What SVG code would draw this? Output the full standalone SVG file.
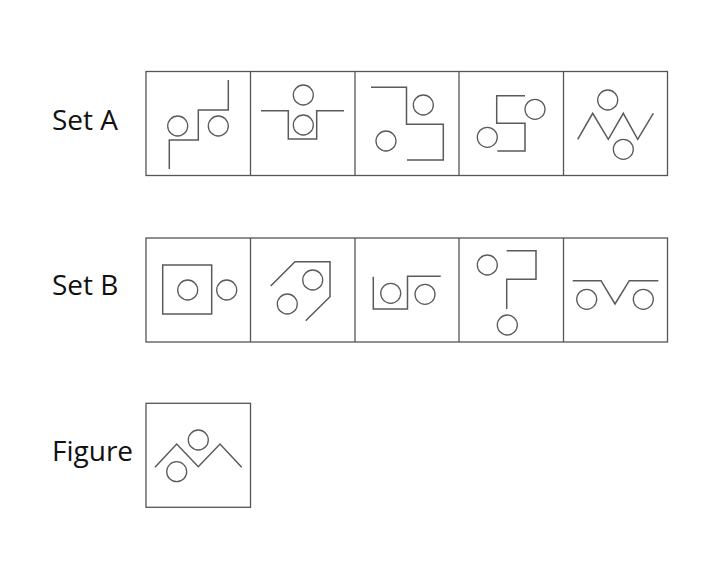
<svg xmlns="http://www.w3.org/2000/svg" width="718" height="584" viewBox="0 0 718 584">
<style>
.bg{fill:#ffffff}
.box{fill:none;stroke:#555555;stroke-width:1.3}
.ln{fill:none;stroke:#5a5a5a;stroke-width:1.5;stroke-linejoin:miter}
.c{fill:none;stroke:#5a5a5a;stroke-width:1.3}
.lbl{font-family:"Open Sans","Liberation Sans",sans-serif;font-size:28px;fill:#111111}
</style>
<rect class="bg" x="0" y="0" width="718" height="584"/>

<g id="label-setA"><text class="lbl" x="52" y="130">Set A</text></g>
<g id="label-setB"><text class="lbl" x="52" y="295">Set B</text></g>
<g id="label-figure"><text class="lbl" x="52" y="461">Figure</text></g>

<g id="setA">
  <rect class="box" x="146" y="71.5" width="521.5" height="104"/>
  <line class="box" x1="250.5" y1="71.5" x2="250.5" y2="175.5"/>
  <line class="box" x1="355" y1="71.5" x2="355" y2="175.5"/>
  <line class="box" x1="459" y1="71.5" x2="459" y2="175.5"/>
  <line class="box" x1="563.5" y1="71.5" x2="563.5" y2="175.5"/>
</g>
<g id="A1">
  <polyline class="ln" points="169.3,169 169.3,140 198.3,140 198.3,110 228.3,110 228.3,80"/>
  <circle class="c" cx="177.7" cy="126" r="10"/>
  <circle class="c" cx="218.3" cy="126" r="10"/>
</g>
<g id="A2">
  <circle class="c" cx="303.3" cy="95" r="10"/>
  <polyline class="ln" points="261,110.7 288.3,110.7 288.3,139 316.7,139 316.7,110.7 344,110.7"/>
  <circle class="c" cx="303.3" cy="125" r="10"/>
</g>
<g id="A3">
  <polyline class="ln" points="371,87.3 406.5,87.3 406.5,124.3 443.3,124.3 443.3,160 407,160"/>
  <circle class="c" cx="386" cy="141" r="10"/>
  <circle class="c" cx="423.3" cy="105" r="10"/>
</g>
<g id="A4">
  <polyline class="ln" points="525,95.7 496.7,95.7 496.7,123.3 525,123.3 525,151 497.3,151"/>
  <circle class="c" cx="535" cy="109.3" r="10"/>
  <circle class="c" cx="487.3" cy="137.3" r="10"/>
</g>
<g id="A5">
  <polyline class="ln" points="577.7,139.3 592.7,113.3 608.3,139.3 623.3,113.3 637.7,139.3 653.3,113.3"/>
  <circle class="c" cx="607.7" cy="100" r="10"/>
  <circle class="c" cx="623.3" cy="149.3" r="10"/>
</g>

<g id="setB">
  <rect class="box" x="146" y="238" width="521.5" height="104"/>
  <line class="box" x1="250.5" y1="238" x2="250.5" y2="342"/>
  <line class="box" x1="355" y1="238" x2="355" y2="342"/>
  <line class="box" x1="459" y1="238" x2="459" y2="342"/>
  <line class="box" x1="563.5" y1="238" x2="563.5" y2="342"/>
</g>
<g id="B1">
  <rect class="ln" x="162.7" y="265" width="49" height="49"/>
  <circle class="c" cx="187.7" cy="290" r="10"/>
  <circle class="c" cx="226.7" cy="290" r="10"/>
</g>
<g id="B2">
  <polyline class="ln" points="270.7,286 295,261.7 330,261.7 330,296.7 305.7,320.7"/>
  <circle class="c" cx="312.7" cy="280" r="10"/>
  <circle class="c" cx="287.3" cy="304" r="10"/>
</g>
<g id="B3">
  <polyline class="ln" points="373.3,276.7 373.3,309 407.5,309 407.5,276.2 440.7,276.2"/>
  <circle class="c" cx="390.7" cy="293.3" r="10"/>
  <circle class="c" cx="425" cy="294.3" r="10"/>
</g>
<g id="B4">
  <circle class="c" cx="487.3" cy="265" r="10"/>
  <polyline class="ln" points="506.7,250.7 536,250.7 536,279.3 506.7,279.3 506.7,309"/>
  <circle class="c" cx="507.3" cy="325" r="10"/>
</g>
<g id="B5">
  <polyline class="ln" points="572.7,280.7 601,280.7 615,304 629.3,280.7 658.3,280.7"/>
  <circle class="c" cx="586.7" cy="299.3" r="10"/>
  <circle class="c" cx="643.3" cy="299.3" r="10"/>
</g>

<g id="figure">
  <rect class="box" x="146" y="403.3" width="104.5" height="104"/>
  <polyline class="ln" points="155,467.3 176.7,444 198.3,466.7 220,444 241.7,467.3"/>
  <circle class="c" cx="198.3" cy="440" r="10"/>
  <circle class="c" cx="176.7" cy="471.7" r="10"/>
</g>
<g id="connectors"></g>
</svg>
